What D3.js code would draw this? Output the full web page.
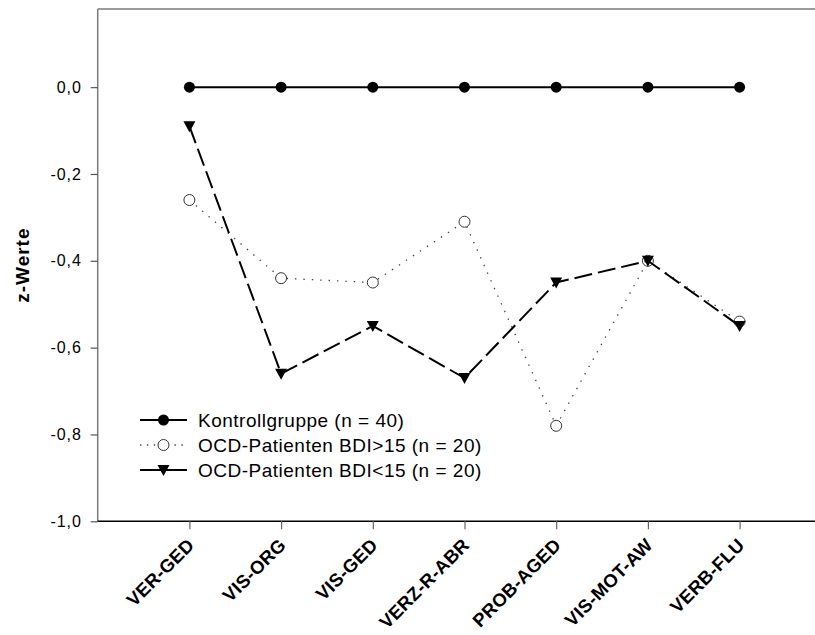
<!DOCTYPE html>
<html>
<head>
<meta charset="utf-8">
<script src="https://cdn.jsdelivr.net/npm/d3@7/dist/d3.min.js"></script>
<style>
  html, body { margin: 0; padding: 0; background: #fff; }
  svg { display: block; }
  text { font-family: "Liberation Sans", Arial, sans-serif; fill: #000; }
</style>
</head>
<body>
<svg id="chart" width="815" height="635"></svg>
<script>
// ---- data ----
const categories = ["VER-GED", "VIS-ORG", "VIS-GED", "VERZ-R-ABR", "PROB-AGED", "VIS-MOT-AW", "VERB-FLU"];
const kontrollgruppe = [0, 0, 0, 0, 0, 0, 0];
const ocdBdiHigh = [-0.26, -0.44, -0.45, -0.31, -0.78, -0.40, -0.54];
const ocdBdiLow = [-0.09, -0.66, -0.55, -0.67, -0.45, -0.40, -0.55];
const seriesNames = ["Kontrollgruppe (n = 40)", "OCD-Patienten BDI>15 (n = 20)", "OCD-Patienten BDI<15 (n = 20)"];
const yTicks = [0, -0.2, -0.4, -0.6, -0.8, -1.0];
const yTitle = "z-Werte";

(function () {
// ---- layout ----
const svg = d3.select("#chart");
const pLeft = 97.7, pBottom = 521.3, pTop = 9, W = 815;

const x = d3.scaleLinear().domain([0, categories.length + 1]).range([pLeft, pLeft + 8 * 91.7]);
const y = d3.scaleLinear().domain([-1, 0.18]).range([pBottom, pTop]);

// frame line at top
svg.append("line").attr("x1", pLeft).attr("x2", W).attr("y1", pTop).attr("y2", pTop)
  .attr("stroke", "#7a7a7a").attr("stroke-width", 1.5);

// y axis
const yAxis = svg.append("g").attr("transform", `translate(${pLeft},0)`)
  .call(d3.axisLeft(y).tickValues(yTicks).tickSize(7).tickPadding(9)
    .tickFormat(d => d3.format(".1f")(d).replace(".", ",").replace("−", "-")));
yAxis.select(".domain").attr("stroke", "#7a7a7a").attr("stroke-width", 1.5).attr("d", `M0,${pBottom}V${pTop}`);
yAxis.selectAll(".tick line").attr("stroke", "#555").attr("stroke-width", 1.2);
yAxis.selectAll(".tick text").attr("font-size", 16).attr("letter-spacing", "0.9px")
  .attr("font-family", "Liberation Sans, Arial, sans-serif").attr("fill", "#000");

// x axis
const xAxis = svg.append("g").attr("transform", `translate(0,${pBottom})`)
  .call(d3.axisBottom(x).tickValues(d3.range(1, categories.length + 1)).tickSize(8).tickFormat(""));
xAxis.select(".domain").attr("stroke", "#000").attr("stroke-width", 1.5).attr("d", `M${pLeft},0H${W}`);
xAxis.selectAll(".tick line").attr("stroke", "#666").attr("stroke-width", 1.2);

// rotated category labels
svg.append("g").selectAll("text").data(categories).join("text")
  .attr("transform", (d, i) => `translate(${x(i + 1) + 6},${pBottom + 25}) rotate(-45)`)
  .attr("text-anchor", "end")
  .attr("font-size", 18.5).attr("font-weight", "bold").attr("letter-spacing", "0.3px")
  .text(d => d);

// y title
svg.append("text")
  .attr("transform", `translate(28.5,${(pTop + pBottom) / 2}) rotate(-90)`)
  .attr("text-anchor", "middle")
  .attr("font-size", 19).attr("font-weight", "bold").attr("letter-spacing", "1px")
  .text(yTitle);

// ---- series ----
const styles = [
  { data: kontrollgruppe, stroke: "#000", width: 2, dash: null, marker: "circleFilled" },
  { data: ocdBdiHigh, stroke: "#444", width: 1.3, dash: "1.4,7", marker: "circleOpen" },
  { data: ocdBdiLow, stroke: "#000", width: 2, dash: "18,6", marker: "triangle" }
];

const line = d3.line().x((d, i) => x(i + 1)).y(d => y(d));

function drawMarker(g, type) {
  if (type === "circleFilled") {
    g.append("circle").attr("r", 5.5).attr("fill", "#000");
  } else if (type === "circleOpen") {
    g.append("circle").attr("r", 5.5).attr("fill", "#fff").attr("stroke", "#333").attr("stroke-width", 1);
  } else {
    g.append("path").attr("d", "M-6,-5L6,-5L0,6Z").attr("fill", "#000");
  }
}

styles.forEach(s => {
  svg.append("path").datum(s.data).attr("d", line)
    .attr("fill", "none").attr("stroke", s.stroke).attr("stroke-width", s.width)
    .attr("stroke-dasharray", s.dash);
  s.data.forEach((v, i) => {
    const g = svg.append("g").attr("transform", `translate(${x(i + 1)},${y(v)})`);
    drawMarker(g, s.marker);
  });
});

// ---- legend ----
const legend = svg.append("g");
styles.forEach((s, i) => {
  const ly = 420 + i * 25;
  legend.append("line").attr("x1", 140).attr("x2", 187).attr("y1", ly).attr("y2", ly)
    .attr("stroke", s.stroke).attr("stroke-width", s.width)
    .attr("stroke-dasharray", s.marker === "circleOpen" ? "1.4,5.5" : null);
  const g = legend.append("g").attr("transform", `translate(163.5,${ly})`);
  drawMarker(g, s.marker);
  legend.append("text").attr("x", 198).attr("y", ly + 6.5)
    .attr("font-size", 19).attr("letter-spacing", "0.5px")
    .text(seriesNames[i]);
});
})();
</script>
</body>
</html>
